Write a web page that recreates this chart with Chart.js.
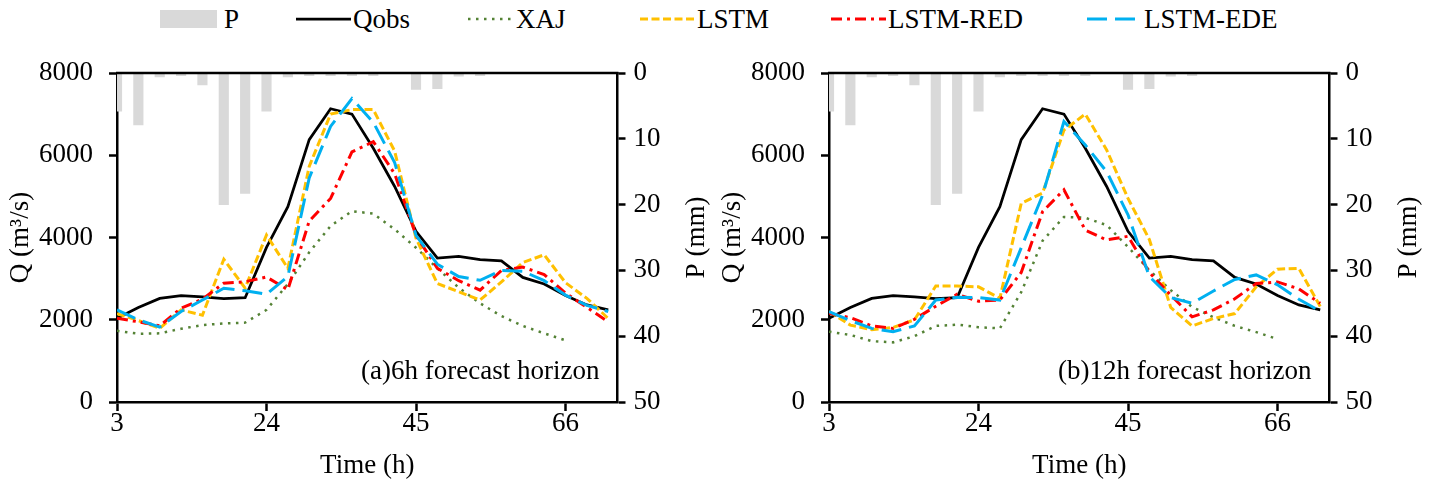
<!DOCTYPE html>
<html>
<head>
<meta charset="utf-8">
<script src="https://cdn.jsdelivr.net/npm/chart.js@4.4.0/dist/chart.umd.min.js"></script>
<style>
  body { margin: 0; background: #fff; width: 1435px; height: 484px; overflow: hidden; position: relative;
         font-family: 'Liberation Serif', 'Times New Roman', serif; }
  .panel { position: absolute; top: 0; }
  .leg { position: absolute; top: 0; height: 38px; display: flex; align-items: center; font-size: 27px; white-space: nowrap; }
  .leg svg { display: block; margin-right: 2px; }
</style>
</head>
<body>
<div id="legend"></div>
<canvas id="chartA" class="panel" width="712" height="484" style="left:0px"></canvas>
<canvas id="chartB" class="panel" width="712" height="484" style="left:712px"></canvas>
<script>
// time steps (h)
const hours = [3, 6, 9, 12, 15, 18, 21, 24, 27, 30, 33, 36, 39, 42, 45, 48, 51, 54, 57, 60, 63, 66, 69, 72];
const xTicks = [3, 24, 45, 66];

// rainfall P (mm), same in both panels
const rain = [5.8, 7.9, 0.6, 0.4, 1.8, 20, 18.3, 5.8, 0.6, 0.4, 0.4, 0.4, 0.4, 0, 2.5, 2.4, 0.5, 0.4, 0, 0, 0, 0, 0, 0];

// observed discharge (m3/s)
const qobs = [2035, 2300, 2520, 2585, 2555, 2515, 2535, 3760, 4750, 6380, 7130, 7000, 6170, 5240, 4150, 3500, 3540, 3460, 3430, 3030, 2870, 2590, 2360, 2240];

// (a) 6h forecast horizon
const xajA  = [1730, 1660, 1670, 1780, 1870, 1910, 1930, 2240, 2870, 3640, 4280, 4640, 4580, 4200, 3750, 3250, 2780, 2400, 2090, 1850, 1670, 1500, null, null];
const lstmA = [2150, 1980, 1790, 2240, 2110, 3470, 2770, 4060, 3250, 5730, 7000, 7110, 7110, 6100, 3980, 2880, 2680, 2480, 2920, 3390, 3580, 2900, 2520, 2030];
const redA  = [2035, 1950, 1850, 2280, 2500, 2890, 2925, 3040, 2730, 4400, 4950, 6080, 6330, 5550, 4050, 3250, 2950, 2720, 3200, 3280, 3100, 2650, 2300, 1950];
const edeA  = [2240, 2000, 1820, 2200, 2480, 2765, 2706, 2620, 3050, 5450, 6700, 7380, 6800, 5820, 4050, 3350, 3050, 2960, 3200, 3180, 2950, 2600, 2350, 2200];

// (b) 12h forecast horizon
const xajB  = [1710, 1630, 1480, 1450, 1600, 1850, 1880, 1820, 1790, 2670, 3920, 4500, 4480, 4300, 3770, 3200, 2720, 2310, 2060, 1850, 1700, 1530, null, null];
const lstmB = [2200, 1870, 1760, 1810, 2000, 2820, 2820, 2800, 2520, 4830, 5080, 6610, 7000, 6130, 4950, 3950, 2300, 1850, 2030, 2150, 2800, 3230, 3250, 2320];
const redB  = [2160, 2050, 1850, 1790, 2010, 2330, 2620, 2450, 2480, 3150, 4630, 5160, 4180, 3940, 4030, 3150, 2600, 2070, 2240, 2510, 2880, 2920, 2750, 2400];
const edeB  = [2200, 1980, 1790, 1710, 1850, 2480, 2545, 2540, 2480, 3750, 5030, 6820, 6250, 5600, 4550, 3050, 2540, 2400, 2700, 2980, 3090, 2850, 2500, 2210];

const FONT = "'Liberation Serif', 'Times New Roman', serif";
const FS = 27;

const styles = {
  P:          { color: '#d9d9d9' },
  Qobs:       { color: '#000000', width: 2.75, dash: [] },
  XAJ:        { color: '#548235', width: 2.5, dash: [2.5, 5.5] },
  LSTM:       { color: '#ffc000', width: 3, dash: [8, 3.5] },
  'LSTM-RED': { color: '#ff0000', width: 3, dash: [11, 5, 3, 5] },
  'LSTM-EDE': { color: '#00b0f0', width: 3, dash: [20, 8] }
};

Chart.defaults.font.family = FONT;
Chart.defaults.font.size = FS;
Chart.defaults.color = '#000';

// legend (HTML)
const legendPos = [
  ['P', 160], ['Qobs', 296], ['XAJ', 468], ['LSTM', 640], ['LSTM-RED', 831], ['LSTM-EDE', 1087]
];
const legend = document.getElementById('legend');
legendPos.forEach(([name, left]) => {
  const s = styles[name];
  const item = document.createElement('div');
  item.className = 'leg';
  item.style.left = left + 'px';
  let svg;
  if (name === 'P') {
    svg = `<svg width="62" height="20"><rect x="0" y="1" width="57" height="18" fill="${s.color}"/></svg>`;
  } else {
    const w = name === 'XAJ' ? 46 : 55;
    svg = `<svg width="${w}" height="20"><line x1="0" y1="10" x2="${w}" y2="10" stroke="${s.color}" stroke-width="${s.width}" stroke-dasharray="${s.dash.join(' ')}"/></svg>`;
  }
  item.innerHTML = svg + '<span>' + name + '</span>';
  legend.appendChild(item);
});

function pts(arr) {
  return hours.map((h, i) => ({ x: h, y: arr[i] }));
}

function lineSet(name, arr, order) {
  const s = styles[name];
  return {
    type: 'line', label: name, data: pts(arr), yAxisID: 'y', order: order,
    borderColor: s.color, borderWidth: s.width, borderDash: s.dash,
    pointRadius: 0, tension: 0, fill: false, spanGaps: false
  };
}

const extraText = {
  id: 'extraText',
  afterDraw(chart, args, opts) {
    const { ctx, chartArea } = chart;
    ctx.save();
    // top border (secondary horizontal axis)
    ctx.strokeStyle = '#000';
    ctx.lineWidth = 2.5;
    ctx.beginPath();
    ctx.moveTo(chartArea.left - 1, chartArea.top);
    ctx.lineTo(chartArea.right + 1, chartArea.top);
    ctx.stroke();
    ctx.fillStyle = '#000';
    ctx.font = FS + 'px ' + FONT;
    ctx.textAlign = 'right';
    ctx.textBaseline = 'middle';
    ctx.fillText(opts.note, chartArea.right - 18, chartArea.bottom - 30);
    // right axis title, reads bottom to top
    ctx.translate(opts.titleX, (chartArea.top + chartArea.bottom) / 2);
    ctx.rotate(-Math.PI / 2);
    ctx.textAlign = 'center';
    ctx.fillText('P (mm)', 0, 0);
    ctx.restore();
  }
};

const axisLine = { color: '#000', width: 2.5 };
const tickGrid = { drawOnChartArea: false, drawTicks: true, tickLength: 8, tickColor: '#000', tickWidth: 2.5 };
const plain = v => String(v);

function makeChart(id, xaj, lstm, red, ede, note) {
  return new Chart(document.getElementById(id), {
    type: 'line',
    data: {
      datasets: [
        lineSet('LSTM-EDE', ede, 1),
        lineSet('LSTM-RED', red, 2),
        lineSet('LSTM', lstm, 3),
        lineSet('XAJ', xaj, 4),
        lineSet('Qobs', qobs, 5),
        {
          type: 'bar', label: 'P', data: pts(rain), yAxisID: 'y2', order: 6,
          backgroundColor: styles.P.color, barThickness: 9.5, borderWidth: 0
        }
      ]
    },
    options: {
      responsive: false,
      animation: false,
      devicePixelRatio: 1,
      layout: { padding: { top: 73, left: 0, right: 0, bottom: 0 } },
      plugins: {
        legend: { display: false },
        tooltip: { enabled: false },
        extraText: { note: note, titleX: 697 }
      },
      scales: {
        x: {
          type: 'linear', min: 3, max: 73.3, offset: false,
          afterBuildTicks: s => { s.ticks = xTicks.map(v => ({ value: v })); },
          afterFit: s => { s.height = 82; },
          border: axisLine,
          grid: Object.assign({}, tickGrid, { tickLength: 9, offset: false }),
          ticks: { padding: -3, maxRotation: 0, autoSkip: false, color: '#000', callback: plain },
          title: { display: true, text: 'Time (h)', color: '#000', padding: { top: 0, bottom: 2 } }
        },
        y: {
          position: 'left', min: 0, max: 8000,
          afterFit: s => { s.width = 117; },
          border: axisLine,
          grid: tickGrid,
          ticks: { stepSize: 2000, padding: 16, color: '#000', callback: plain },
          title: { display: true, text: 'Q (m³/s)', color: '#000', padding: { top: 5, bottom: 0 } }
        },
        y2: {
          position: 'right', min: 0, max: 50, reverse: true,
          afterFit: s => { s.width = 712 - 617.5; },
          border: axisLine,
          grid: tickGrid,
          ticks: { stepSize: 10, padding: 8, color: '#000', callback: plain }
        }
      }
    },
    plugins: [extraText]
  });
}

makeChart('chartA', xajA, lstmA, redA, edeA, '(a)6h forecast horizon');
makeChart('chartB', xajB, lstmB, redB, edeB, '(b)12h forecast horizon');
</script>
</body>
</html>
